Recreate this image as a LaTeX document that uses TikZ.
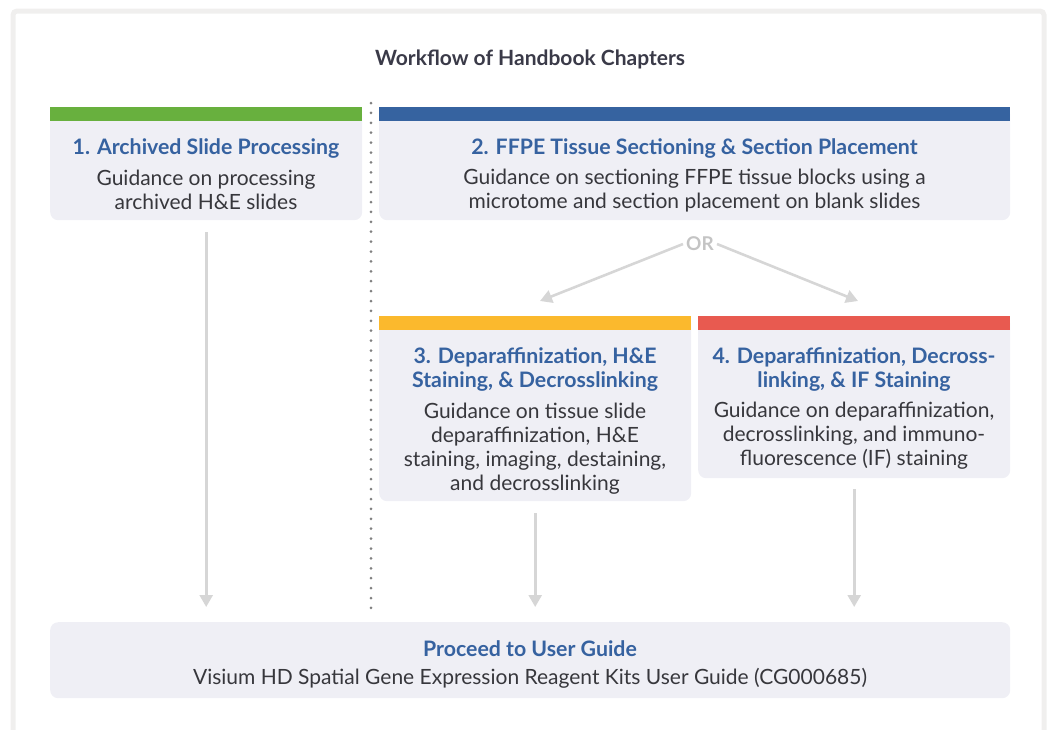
\documentclass[tikz,border=0pt]{standalone}
\usepackage{fontspec}
\setmainfont{Lato}
\usetikzlibrary{arrows.meta}
\definecolor{boxfill}{RGB}{239,239,245}
\definecolor{ttl}{RGB}{54,98,160}
\definecolor{txt}{RGB}{55,55,60}
\definecolor{arr}{RGB}{214,214,214}
\definecolor{frame}{RGB}{240,239,238}
\definecolor{cgreen}{RGB}{104,176,62}
\definecolor{cblue}{RGB}{54,99,160}
\definecolor{cyellow}{RGB}{251,185,45}
\definecolor{cred}{RGB}{232,90,80}
\tikzset{
  panel/.style={fill=boxfill, rounded corners=8pt, draw=none, anchor=north west, inner sep=0pt},
  bar/.style={draw=none, anchor=north west, inner sep=0pt, minimum height=14pt},
  head/.style={text=ttl, font=\bfseries\fontsize{21.3}{24}\selectfont, align=center, inner sep=0pt},
  body/.style={text=txt, font=\fontsize{21}{24}\selectfont, align=center, inner sep=0pt},
  conn/.style={draw=arr, line width=2.6pt, -{Triangle[length=12pt,width=13pt]}},
}
\begin{document}
\begin{tikzpicture}[x=1pt,y=-1pt]
\useasboundingbox (0,0) rectangle (1049,729);
% frame
\draw[frame, line width=5pt, rounded corners=4pt] (13,11) -- (1044,11) -- (1044,740) -- (13,740) -- cycle;
% title
\node[text={rgb,255:red,58;green,58;blue,72}, font=\bfseries\fontsize{21}{24}\selectfont] (title) at (530,59) {Workflow of Handbook Chapters};
% divider
\coordinate (dtop) at (371,103);
\coordinate (dbot) at (371,608);
\draw[gray, line width=3pt, line cap=round, dash pattern=on 0pt off 9.9pt] (dtop) -- (dbot);
% box 1
\node[panel, minimum width=312pt, minimum height=113pt] (b1) at (50,107) {};
\node[bar, fill=cgreen, minimum width=312pt] (b1bar) at (50,107) {};
\node[head] (h1) at (206,148.5) {1. Archived Slide Processing};
\node[body] (t1) at (206,190) {Guidance on processing\\archived H\&E slides};
% box 2
\node[panel, minimum width=631pt, minimum height=113pt] (b2) at (379,107) {};
\node[bar, fill=cblue, minimum width=631pt] (b2bar) at (379,107) {};
\node[head] (h2) at (694.5,148.5) {2. FFPE Tissue Sectioning \& Section Placement};
\node[body] (t2) at (694.5,191) {Guidance on sectioning FFPE tissue blocks using a\\microtome and section placement on blank slides};
% OR
\node[text={rgb,255:red,196;green,196;blue,196}, font=\bfseries\fontsize{19}{22}\selectfont, inner sep=3pt] (or) at (700,244) {OR};
% box 3
\node[panel, minimum width=312pt, minimum height=185pt] (b3) at (379,316) {};
\node[bar, fill=cyellow, minimum width=312pt] (b3bar) at (379,316) {};
\node[head] (h3) at (535,369) {3. Deparaffinization, H\&E\\Staining, \& Decrosslinking};
\node[body] (t3) at (535,449) {Guidance on tissue slide\\deparaffinization, H\&E\\staining, imaging, destaining,\\and decrosslinking};
% box 4
\node[panel, minimum width=312pt, minimum height=162pt] (b4) at (698,316) {};
\node[bar, fill=cred, minimum width=312pt] (b4bar) at (698,316) {};
\node[head] (h4) at (854,369) {4. Deparaffinization, Decross-\\linking, \& IF Staining};
\node[body] (t4) at (854,436) {Guidance on deparaffinization,\\decrosslinking, and immuno-\\fluorescence (IF) staining};
% bottom box
\node[panel, minimum width=960pt, minimum height=76pt] (b5) at (50,622) {};
\node[head] (h5) at (530,648.5) {Proceed to User Guide};
\node[body] (t5) at (530,678) {Visium HD Spatial Gene Expression Reagent Kits User Guide (CG000685)};
% connectors
\coordinate (or3) at (540,301);
\coordinate (or4) at (858,301);
\draw[conn] (or.west) -- (or3);
\draw[conn] (or.east) -- (or4);
\draw[conn] ([yshift=-12pt]b1.south) -- ([yshift=15pt]b1.south |- b5.north);
\draw[conn] ([yshift=-12pt]b3.south) -- ([yshift=15pt]b3.south |- b5.north);
\draw[conn] ([yshift=-11pt]b4.south) -- ([yshift=15pt]b4.south |- b5.north);
\end{tikzpicture}
\end{document}
